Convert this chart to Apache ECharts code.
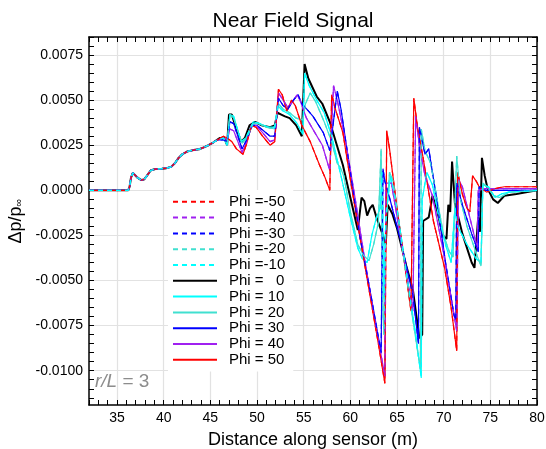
<!DOCTYPE html>
<html><head><meta charset="utf-8">
<script src="https://cdn.jsdelivr.net/npm/echarts@6/dist/echarts.min.js"></script>
<style>html,body{margin:0;padding:0;background:#fff}#c{width:546px;height:449px}</style>
</head><body><div id="c"></div>
<script>
const legendNames = ['Phi =-50','Phi =-40','Phi =-30','Phi =-20','Phi =-10','Phi =   0','Phi = 10','Phi = 20','Phi = 30','Phi = 40','Phi = 50'];
const xLabelValues = [35,40,45,50,55,60,65,70,75,80];
const yLabelValues = [-0.01,-0.0075,-0.005,-0.0025,0,0.0025,0.005,0.0075];

const common = [[32,0],[36.2,0],[36.35,0.0002],[36.5,0.0007],[36.7,0.00097],[36.9,0.0009],[37.2,0.0007],[37.6,0.00057],[37.9,0.0006],[38.2,0.0008],[38.6,0.0011],[39.1,0.00118],[39.8,0.0012],[40.3,0.00123],[40.8,0.0013],[41.2,0.0015],[41.6,0.0018],[42.0,0.002],[42.5,0.00215],[43.2,0.00223],[43.8,0.00228],[44.3,0.00238],[44.8,0.0025],[45.3,0.00265]];

const phi0 = [[46.0,0.0029],[46.5,0.0029],[46.8,0.0025],[47.0,0.0042],[47.3,0.0042],[47.8,0.0034],[48.3,0.0027],[48.7,0.0029],[49.2,0.0036],[49.8,0.0038],[50.5,0.0036],[51.4,0.0035],[51.9,0.0036],[52.2,0.0043],[52.6,0.0042],[53.0,0.0041],[53.5,0.0040],[54.2,0.0036],[54.8,0.0030],[55.1,0.0070],[55.5,0.0062],[56.4,0.0052],[57.0,0.0048],[57.8,0.0038],[58.5,0.0026],[59.2,0.0014],[60.0,-0.0004],[60.8,-0.0022],[61.2,-0.0004],[61.5,-0.0006],[61.8,-0.0014],[62.1,-0.0010],[62.4,-0.0008],[62.8,-0.0015],[63.5,-0.0025],[63.8,-0.0030],[64.0,-0.0008],[64.5,-0.0013],[65.0,-0.0021],[66.0,-0.0042],[66.7,-0.0055],[67.4,-0.0082],[67.7,-0.0080],[67.8,-0.0017],[68.4,-0.0015],[68.8,-0.0003],[69.3,-0.0011],[69.9,-0.0025],[70.3,-0.0027],[70.5,-0.0008],[70.7,-0.0012],[70.9,0.0016],[71.2,-0.0007],[72.0,-0.0024],[73.0,-0.0040],[73.3,-0.0043],[73.7,-0.0015],[73.9,-0.0023],[74.1,0.0018],[74.4,0.0008],[74.7,0.0001],[75.3,-0.0005],[75.8,-0.0007],[76.5,-0.0003],[77.8,-0.0002],[80,0.0000]];

const phi10 = [[45.8,0.0028],[46.4,0.0029],[46.8,0.0025],[47.1,0.0042],[47.5,0.0041],[48.3,0.0027],[48.8,0.0029],[49.6,0.0038],[50.3,0.0037],[51.2,0.0035],[51.9,0.0035],[52.2,0.0047],[52.8,0.0044],[53.5,0.0042],[54.3,0.0037],[54.9,0.0031],[55.1,0.0065],[55.6,0.0058],[56.4,0.0050],[57.2,0.0043],[58.0,0.0030],[59.0,0.0008],[60.0,-0.0015],[60.8,-0.0032],[61.3,-0.0038],[61.8,-0.0040],[62.3,-0.0025],[62.8,-0.0015],[63.2,-0.0010],[63.4,0.0010],[63.6,-0.0060],[63.8,-0.0015],[64.3,0.0008],[65.0,-0.0010],[66.0,-0.0045],[67.0,-0.0080],[67.6,-0.0104],[67.7,-0.0005],[68.2,0.0010],[68.8,0.0003],[69.5,-0.0015],[70.2,-0.0030],[70.8,-0.0040],[71.2,-0.0010],[71.5,-0.0020],[72.5,-0.0030],[73.5,-0.0038],[74.0,-0.0040],[74.2,0.0003],[74.8,0.0002],[75.5,-0.0004],[76.2,-0.0002],[77,-0.0001],[80,0.0000]];

const phi20 = [[45.8,0.0028],[46.4,0.0029],[46.8,0.0026],[47.1,0.0042],[47.5,0.0040],[48.4,0.0026],[48.9,0.0029],[49.6,0.0037],[50.2,0.0037],[51.0,0.0035],[51.9,0.0034],[52.3,0.0048],[52.8,0.0045],[53.5,0.0043],[54.2,0.0040],[54.9,0.0039],[55.2,0.0048],[55.7,0.0054],[56.3,0.0049],[57.2,0.0038],[58.0,0.0027],[58.6,0.0015],[58.9,0.0013],[59.3,0.0008],[60.0,-0.0012],[60.8,-0.0030],[61.4,-0.0036],[62.0,-0.0039],[62.5,-0.0030],[63.0,-0.0018],[63.3,0.0023],[63.5,-0.0068],[63.6,-0.0080],[63.8,-0.0020],[64.2,0.0010],[64.6,0.0005],[65.5,-0.0030],[66.5,-0.0065],[67.5,-0.0099],[67.6,0.0034],[68.0,0.0022],[68.6,0.0015],[69.3,-0.0005],[70.0,-0.0025],[70.6,-0.0034],[71.0,-0.0037],[71.4,0.0019],[71.8,-0.0005],[72.5,-0.0020],[73.5,-0.0035],[74.0,-0.0042],[74.2,0.0004],[74.6,0.0002],[75.4,-0.0003],[76.0,-0.0004],[77,-0.0001],[80,0.0000]];

const phi30 = [[45.8,0.0028],[46.4,0.0028],[46.8,0.0027],[47.1,0.0038],[47.5,0.0037],[48.4,0.0023],[48.9,0.0028],[49.5,0.0036],[50.0,0.0036],[50.7,0.0033],[51.4,0.0030],[51.9,0.0030],[52.3,0.0051],[52.8,0.0047],[53.3,0.0045],[53.9,0.0050],[54.4,0.0053],[54.8,0.0048],[55.5,0.0044],[56.0,0.0041],[57.1,0.0032],[57.8,0.0022],[58.6,0.0055],[59.0,0.0045],[60.0,0.0010],[61.0,-0.0025],[62.2,-0.0058],[63.3,-0.0090],[63.5,0.0012],[63.7,0.0005],[64.2,-0.0004],[65.3,-0.0026],[66.7,-0.0058],[67.3,-0.0085],[67.4,0.0035],[68.0,0.0020],[68.4,0.0023],[69.2,-0.0003],[70.2,-0.0040],[71.1,-0.0069],[71.3,-0.0072],[71.4,0.0004],[72.0,-0.0008],[73.0,-0.0024],[73.7,-0.0034],[73.8,0.0002],[74.5,0.0000],[76,0.0000],[80,0.0000]];

const phi40 = [[45.8,0.0028],[46.4,0.0029],[46.8,0.0028],[47.1,0.0034],[47.5,0.0033],[48.4,0.0021],[48.9,0.0027],[49.4,0.0036],[49.9,0.0036],[50.6,0.0032],[51.4,0.0027],[51.9,0.0028],[52.3,0.0054],[52.8,0.0050],[53.3,0.0046],[53.8,0.0049],[54.3,0.0053],[54.6,0.0050],[55.3,0.0040],[56.2,0.0032],[57.0,0.0025],[57.8,0.0011],[58.2,0.0058],[58.6,0.0050],[59.5,0.0027],[60.5,-0.0004],[61.5,-0.0037],[62.5,-0.0068],[63.7,-0.0103],[63.8,0.0004],[64.4,0.0004],[65.5,-0.0030],[66.7,-0.0067],[67.0,0.0041],[67.4,0.0025],[68.0,0.0008],[68.8,-0.0003],[70.0,-0.0035],[71.4,-0.0078],[71.6,0.0006],[72.0,0.0002],[72.8,-0.0015],[73.6,-0.0032],[73.7,0.0000],[74.5,0.0001],[76,0.0001],[80,0.0001]];

const phi50 = [[45.8,0.0028],[46.4,0.0030],[46.8,0.0029],[47.3,0.0027],[47.8,0.0023],[48.5,0.0020],[48.9,0.0026],[49.4,0.0036],[49.9,0.0035],[50.6,0.0030],[51.4,0.0025],[51.9,0.0027],[52.3,0.0056],[52.7,0.0053],[53.2,0.0044],[53.7,0.0050],[54.1,0.0047],[54.8,0.0036],[55.7,0.0027],[56.7,0.0014],[57.3,0.0007],[57.8,0.0000],[58.0,0.0053],[58.4,0.0045],[59.2,0.0032],[60.0,0.0006],[61.0,-0.0025],[62.0,-0.0055],[63.0,-0.0085],[63.7,-0.0107],[63.9,0.0033],[64.2,0.0023],[64.9,-0.0006],[65.8,-0.0040],[66.5,-0.0067],[66.8,0.0051],[67.2,0.0035],[67.8,0.0018],[68.9,-0.0017],[69.5,-0.0030],[70.1,-0.0043],[70.8,-0.0065],[71.4,-0.0089],[71.5,0.0010],[72.0,-0.0002],[72.5,-0.0010],[72.8,-0.0012],[73.1,0.0008],[73.5,0.0005],[73.8,0.0002],[74.6,-0.0001],[75.5,0.0001],[76.5,0.0002],[78,0.0002],[80,0.0002]];

const curves = [phi50, phi40, phi30, phi20, phi10, phi0, phi10, phi20, phi30, phi40, phi50];
const colors = ['#ff0000','#a020f0','#0000ff','#40e0d0','#00ffff','#000000','#00ffff','#40e0d0','#0000ff','#a020f0','#ff0000'];

function rng(a, b, s) { const out = []; for (let v = a; v <= b + s / 2; v += s) out.push(Math.round(v * 1e6) / 1e6); return out; }
const xMinorTicks = rng(32, 80, 1);
const yMinorTicks = rng(-0.0115, 0.0085, 0.0005);

const chart = echarts.init(document.getElementById('c'), null, { renderer: 'canvas' });
const FONT = 'Liberation Sans, Arial, sans-serif';

const series = legendNames.map((name, i) => ({
  name, type: 'line', xAxisIndex: 0, yAxisIndex: 0,
  data: common.concat(curves[i]),
  symbol: 'none', showSymbol: false, animation: false,
  lineStyle: { color: colors[i], width: i === 5 ? 2 : 1.2, type: i < 5 ? [5, 4] : 'solid' },
  itemStyle: { color: colors[i] },
  z: i < 5 ? 3 : 2
}));

const lineBlack = { show: true, onZero: false, lineStyle: { color: '#000', width: 1.5 } };
const tickStyle = { show: true, inside: true, length: 5, lineStyle: { color: '#000', width: 1 } };

chart.setOption({
  animation: false,
  backgroundColor: '#fff',
  title: { text: 'Near Field Signal', left: 288, top: 6, textAlign: 'center',
    textStyle: { fontFamily: FONT, fontSize: 21, fontWeight: 'normal', color: '#000' } },
  grid: { left: 89, right: 9, top: 37, bottom: 44, outerBoundsMode: 'none' },
  legend: {
    data: legendNames, orient: 'vertical', left: 168, top: 190,
    itemWidth: 44, itemHeight: 10, itemGap: 0.2,
    padding: [4, 8, 4, 4],
    backgroundColor: '#fff',
    selectedMode: false,
    itemStyle: { opacity: 0, borderWidth: 0 },
    textStyle: { fontFamily: FONT, fontSize: 15, color: '#000', lineHeight: 15.6, padding: [0, 0, 0, 7] }
  },
  xAxis: [
    { type: 'value', min: 32, max: 80, position: 'bottom',
      name: 'Distance along sensor (m)', nameLocation: 'middle', nameGap: 26,
      nameTextStyle: { fontFamily: FONT, fontSize: 18, color: '#000' },
      axisLine: lineBlack,
      axisTick: Object.assign({ customValues: xMinorTicks }, tickStyle),
      axisLabel: { customValues: xLabelValues, fontFamily: FONT, fontSize: 14, color: '#000', margin: 6 },
      splitLine: { show: false } },
    { type: 'value', min: 32, max: 80, position: 'top',
      axisLine: lineBlack,
      axisTick: Object.assign({ customValues: xMinorTicks }, tickStyle),
      axisLabel: { show: false }, splitLine: { show: false } },
    { type: 'value', min: 32, max: 80, position: 'bottom', z: 0,
      axisLine: { show: false, onZero: false },
      axisTick: { show: false, customValues: xLabelValues },
      axisLabel: { show: false },
      splitLine: { show: true, lineStyle: { color: '#e2e2e2', width: 1.2 } } }
  ],
  yAxis: [
    { type: 'value', min: -0.0119, max: 0.0085, position: 'left',
      name: 'Δp/p{s|∞}', nameLocation: 'middle', nameGap: 60, nameRotate: 90,
      nameTextStyle: { fontFamily: FONT, fontSize: 18, color: '#000',
        rich: { s: { fontFamily: FONT, fontSize: 11, color: '#000', verticalAlign: 'bottom' } } },
      axisLine: lineBlack,
      axisTick: Object.assign({ customValues: yMinorTicks }, tickStyle),
      axisLabel: { customValues: yLabelValues, fontFamily: FONT, fontSize: 14, color: '#000', margin: 6,
        formatter: v => v.toFixed(4) },
      splitLine: { show: false } },
    { type: 'value', min: -0.0119, max: 0.0085, position: 'right',
      axisLine: lineBlack,
      axisTick: Object.assign({ customValues: yMinorTicks }, tickStyle),
      axisLabel: { show: false }, splitLine: { show: false } },
    { type: 'value', min: -0.0119, max: 0.0085, position: 'left', z: 0,
      axisLine: { show: false, onZero: false },
      axisTick: { show: false, customValues: yLabelValues },
      axisLabel: { show: false },
      splitLine: { show: true, lineStyle: { color: '#e2e2e2', width: 1.2 } } }
  ],
  graphic: [
    { type: 'text', left: 95, top: 372, z: 100,
      style: { text: '{i|r/L} = 3', fontFamily: FONT, fontSize: 19, fill: '#8c8c8c',
        rich: { i: { fontFamily: FONT, fontSize: 19, fontStyle: 'italic', fill: '#8c8c8c', color: '#8c8c8c' } } } }
  ],
  series
});
</script>
</body></html>
